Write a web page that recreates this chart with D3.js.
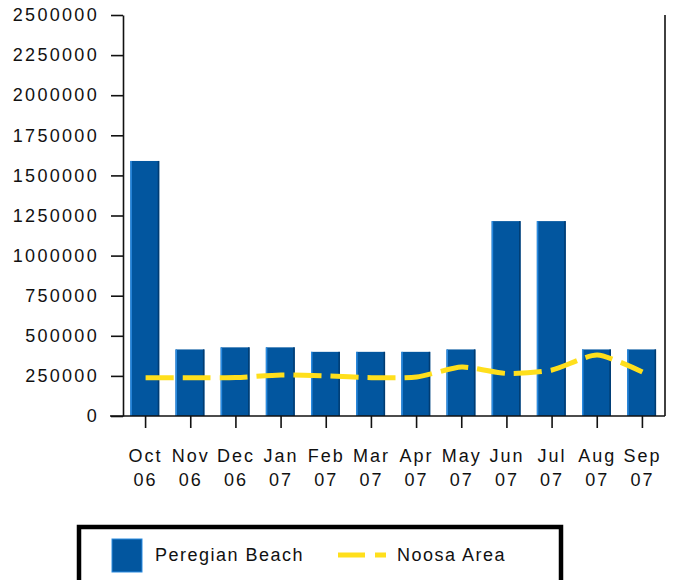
<!DOCTYPE html>
<html lang="en">
<head>
<meta charset="utf-8">
<title>Peregian Beach vs Noosa Area</title>
<script src="https://d3js.org/d3.v7.min.js"></script>
<style>
  body { margin: 0; background: #fff; }
  text { font-family: "Liberation Sans", Arial, sans-serif; fill: #111; }
</style>
</head>
<body>
<script>
// data
var months = ["Oct", "Nov", "Dec", "Jan", "Feb", "Mar", "Apr", "May", "Jun", "Jul", "Aug", "Sep"];
var years = ["06", "06", "06", "07", "07", "07", "07", "07", "07", "07", "07", "07"];
var peregian = [1590000, 415000, 428000, 428000, 400000, 400000, 400000, 415000, 1215000, 1215000, 415000, 415000];
var noosa = [239000, 239000, 240000, 256000, 250000, 239000, 243000, 305000, 265000, 287000, 380000, 274000];
var yTicks = [0, 250000, 500000, 750000, 1000000, 1250000, 1500000, 1750000, 2000000, 2250000, 2500000];

var w = 674, h = 580;
var plotL = 123, plotR = 665, plotT = 15, plotB = 416;

var svg = d3.select("body").append("svg")
  .attr("width", w)
  .attr("height", h);

var x = d3.scaleBand().domain(months).range([plotL, plotR]).padding(0);
var y = d3.scaleLinear().domain([0, 2500000]).range([plotB, plotT]);
var cx = function(i) { return x(months[i]) + x.bandwidth() / 2; };
var bw = x.bandwidth() * 0.64;

// bars
var bars = svg.append("g").selectAll("g")
  .data(peregian)
  .enter()
  .append("g");

bars.append("rect")
  .attr("x", function(d, i) { return cx(i) - bw / 2 - 0.8; })
  .attr("y", function(d) { return y(d); })
  .attr("width", bw)
  .attr("height", function(d) { return plotB - y(d); })
  .attr("fill", "#02569f");

bars.append("rect")
  .attr("x", function(d, i) { return cx(i) - bw / 2 - 0.8; })
  .attr("y", function(d) { return y(d); })
  .attr("width", 1.5)
  .attr("height", function(d) { return plotB - y(d); })
  .attr("fill", "#2b8be0");

bars.append("rect")
  .attr("x", function(d, i) { return cx(i) + bw / 2 - 2.3; })
  .attr("y", function(d) { return y(d); })
  .attr("width", 1.5)
  .attr("height", function(d) { return plotB - y(d); })
  .attr("fill", "#013c72");

// line
var line = d3.line()
  .x(function(d, i) { return cx(i); })
  .y(function(d) { return y(d); })
  .curve(d3.curveCardinal.tension(0.3));

svg.append("path")
  .datum(noosa)
  .attr("d", line)
  .attr("fill", "none")
  .attr("stroke", "#ffdf1c")
  .attr("stroke-width", 5)
  .attr("stroke-dasharray", "28,9");

// y axis
var yAxis = svg.append("g")
  .attr("transform", "translate(" + plotL + ",0)")
  .call(d3.axisLeft(y).tickValues(yTicks).tickSize(12).tickSizeOuter(0).tickPadding(12).tickFormat(d3.format("d")));
yAxis.selectAll("text")
  .style("font-size", "18px")
  .style("letter-spacing", "2.3px")
  .attr("fill", "#111");

// x axis
var xAxis = svg.append("g")
  .attr("transform", "translate(0," + plotB + ")")
  .call(d3.axisBottom(x).tickSize(12).tickSizeOuter(0).tickFormat(""));
xAxis.select(".domain").remove();

xAxis.selectAll(".tick").each(function(d, i) {
  var t = d3.select(this).append("text")
    .attr("text-anchor", "middle")
    .style("font-size", "18px")
    .style("letter-spacing", "2px")
    .attr("fill", "#111");
  t.append("tspan").attr("x", 0).attr("y", 46).text(months[i]);
  t.append("tspan").attr("x", 0).attr("y", 70).text(years[i]);
});

svg.selectAll(".domain, .tick line")
  .attr("stroke", "#111")
  .attr("stroke-width", 1.6);

// frame: baseline and right edge
svg.append("line")
  .attr("x1", 110).attr("x2", plotR)
  .attr("y1", plotB).attr("y2", plotB)
  .attr("stroke", "#111").attr("stroke-width", 1.6);
svg.append("line")
  .attr("x1", plotR).attr("x2", plotR)
  .attr("y1", plotT).attr("y2", plotB)
  .attr("stroke", "#111").attr("stroke-width", 1.6);

// legend
var lg = svg.append("g");
lg.append("rect")
  .attr("x", 79).attr("y", 527)
  .attr("width", 482).attr("height", 60)
  .attr("fill", "#fff")
  .attr("stroke", "#000")
  .attr("stroke-width", 4.5);
lg.append("rect")
  .attr("x", 112).attr("y", 539)
  .attr("width", 30).attr("height", 33)
  .attr("fill", "#02569f")
  .attr("stroke", "#2b8be0")
  .attr("stroke-width", 1);
lg.append("text")
  .attr("x", 155).attr("y", 561)
  .style("font-size", "18px")
  .style("letter-spacing", "1.5px")
  .text("Peregian Beach");
lg.append("line")
  .attr("x1", 338).attr("x2", 386)
  .attr("y1", 555).attr("y2", 555)
  .attr("stroke", "#ffdf1c")
  .attr("stroke-width", 5)
  .attr("stroke-dasharray", "27,10");
lg.append("text")
  .attr("x", 397).attr("y", 561)
  .style("font-size", "18px")
  .style("letter-spacing", "1.5px")
  .text("Noosa Area");
</script>
</body>
</html>
